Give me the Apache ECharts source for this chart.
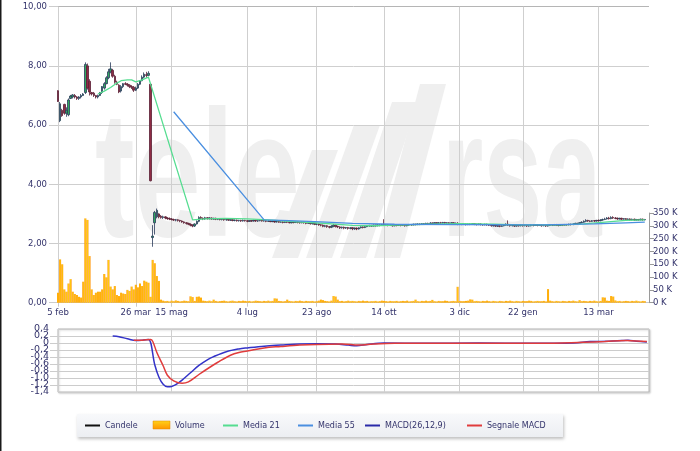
<!DOCTYPE html>
<html><head><meta charset="utf-8">
<script src="https://cdn.jsdelivr.net/npm/echarts@6/dist/echarts.min.js"></script>
<style>html,body{margin:0;padding:0;background:#fff}#c{width:700px;height:451px}</style>
</head><body><div id="c"></div>
<script>
// ---- data ----
const tickLabels = ['5 feb','26 mar','15 mag','4 lug','23 ago','14 ott','3 dic','22 gen','13 mar'];
const tickIdx = [0,37,54,90,123,155,191,221,257];
const dayCount = 282;
// [open, close, low, high] in euro cents, one per trading day
const ohlcCents = [
[716,680,678,718],[615,672,610,678],[650,632,628,655],[670,640,635,672],[640,650,628,660],
[635,685,630,690],[690,698,688,702],[695,702,690,705],[700,695,690,705],[695,690,685,698],
[690,695,685,698],[695,700,690,705],[700,705,698,708],[710,805,705,812],[800,725,720,808],
[748,712,700,755],[710,705,700,712],[708,700,695,712],[700,695,690,702],[695,700,690,703],
[700,710,698,712],[710,730,705,732],[725,740,720,745],[740,760,738,765],[760,780,755,790],
[780,790,775,812],[785,765,760,790],[765,745,740,770],[745,738,735,750],[735,712,708,738],
[715,730,710,735],[730,740,725,742],[740,738,735,745],[738,735,730,742],[735,730,725,738],
[730,728,722,735],[728,718,712,732],[718,725,715,730],[725,738,722,742],[738,750,735,752],
[750,762,748,768],[762,772,758,778],[770,768,760,780],[768,775,765,782],[738,412,410,740],
[220,225,189,262],[270,305,230,310],[290,312,285,318],[300,290,285,302],[292,288,284,296],
[288,290,283,294],[290,286,282,292],[286,284,280,289],[284,283,279,288],[283,281,278,286],
[281,279,276,284],[279,280,275,283],[280,278,274,282],[278,276,272,280],[276,273,270,278],
[273,270,267,275],[270,268,264,272],[268,265,262,270],[265,262,258,268],[262,259,255,265],
[259,266,256,268],[266,275,264,278],[275,288,272,292],[288,285,282,292],[285,283,279,288],
[283,287,280,290],[287,284,281,289],[284,286,281,289],[286,283,280,288],[283,285,280,287],
[285,282,279,287],[282,283,279,285],[283,281,278,285],[281,282,278,284],[282,280,277,284],
[280,281,277,283],[281,279,276,283],[279,280,276,282],[280,278,275,282],[278,279,275,281],
[279,277,274,281],[277,278,274,280],[278,276,273,280],[276,278,274,281],[278,277,274,280],
[277,275,272,279],[275,277,273,279],[277,276,273,279],[276,278,274,280],[278,276,273,280],
[276,277,273,279],[277,278,275,281],[278,276,274,280],[276,277,274,279],[277,275,272,279],
[275,276,273,278],
[276,274,272,278],[274,275,272,277],[275,273,270,277],[273,274,271,276],[274,272,270,276],
[272,273,270,275],[273,271,268,275],[271,273,269,275],[273,272,269,275],[272,270,268,274],
[270,272,268,274],[272,271,268,274],[271,273,269,275],[273,271,268,275],[271,270,267,273],
[270,272,268,274],[272,270,267,274],[270,268,265,272],[268,270,266,272],[270,267,264,271],
[267,268,264,270],[268,265,262,270],[265,266,262,268],[266,263,260,268],[263,262,258,265],
[262,258,255,264],[258,260,255,263],[260,257,253,262],[257,255,251,259],[255,258,252,262],
[258,262,255,266],[262,258,254,264],[258,256,252,260],[256,253,249,258],[253,255,250,257],
[255,252,248,257],[252,254,249,256],[254,251,247,256],[251,253,248,255],[253,250,245,255],
[250,252,246,254],[252,249,245,254],[249,253,247,255],[253,256,251,258],[256,254,251,258],
[254,257,252,259],[257,259,255,261],[259,261,257,263],[261,259,256,263],[259,262,257,264],
[262,260,257,264],[260,263,258,265],[263,261,258,265],[261,264,259,266],[264,262,259,282],
[262,263,260,265],[263,261,258,265],[261,262,259,264],[262,260,257,264],[260,262,258,264],
[262,261,258,264],[261,263,259,265],[263,261,258,265],[261,262,259,264],[262,260,257,264],
[260,262,258,264],[262,264,260,266],[264,263,260,266],[263,265,261,267],[265,264,261,267],
[264,266,262,268],[266,265,262,268],[265,267,263,269],[267,266,263,269],[266,268,264,270],
[268,267,264,270],[267,269,265,272],[269,268,265,271],[268,270,266,272],[270,268,265,272],
[268,270,266,272],[270,269,266,273],[269,271,267,273],[271,269,266,273],[269,270,267,272],
[270,268,265,272],[268,270,266,272],[270,267,264,272],[267,268,265,271],[268,266,262,272],
[266,267,263,269],[267,265,262,269],[265,266,263,268],[266,264,261,268],[264,266,262,268],
[266,265,262,268],[265,267,263,269],[267,265,262,269],[265,264,261,267],[264,266,262,268],
[266,264,261,268],[264,263,260,266],[263,265,261,267],[265,263,260,267],[263,262,259,265],
[262,260,257,264],[260,261,257,263],[261,259,256,263],[259,260,256,262],[260,258,255,262],
[258,260,256,262],[260,262,258,264],[262,265,260,268],[265,262,259,278],[262,260,257,264],
[260,261,258,263],[261,259,256,263],[259,261,257,263],[261,260,257,263],[260,262,258,264],
[262,260,257,264],[260,261,258,263],[261,259,256,263],[259,260,257,262],[260,262,258,264],
[262,261,258,264],[261,263,259,265],[263,261,258,265],[261,262,259,264],[262,260,257,264],
[260,261,258,263],[261,259,256,263],[259,261,257,263],[261,263,259,265],[263,262,259,265],
[262,264,260,266],[264,262,259,266],[262,261,258,264],[261,263,259,265],[263,262,259,265],
[262,264,260,266],[264,263,260,266],[263,265,261,267],[265,264,261,267],[264,266,262,268],
[266,268,264,270],[268,267,264,270],[267,270,265,272],[270,272,268,275],[272,275,270,278],
[275,278,272,282],[278,276,273,280],[276,275,272,278],[275,277,273,279],[277,276,273,279],
[276,278,274,280],[278,277,274,281],[277,279,275,282],[279,281,277,284],[281,283,279,287],
[283,286,281,289],[286,284,281,290],[284,288,282,292],[288,286,283,292],[286,285,282,289],
[285,283,280,288],[283,285,281,287],[285,282,279,287],[282,284,280,286],[284,281,278,286],
[281,283,279,285],[283,280,277,285],[280,282,278,284],[282,279,276,284],[279,281,277,283],
[281,280,277,283],[280,282,278,284],[282,280,277,284],[280,281,278,283]
];
// volume in thousands of shares, one per trading day
const volumeK = [
39,169,150,52,43,75,92,43,34,30, 23,20,82,329,323,182,52,30,39,43,
43,52,112,99,167,63,52,65,30,26, 39,36,34,50,46,63,52,70,60,75,
65,86,82,78,23,167,154,104,85,12,
8,6,7,5,8,6,9,7,5,6, 8,7,6,25,22,7,23,24,20,8,
7,6,8,6,12,7,5,6,7,8, 6,5,7,8,6,5,7,6,8,7,
6,7,5,6,8,7,6,5,7,6, 8,6,7,17,16,7,6,5,6,12,
7,6,5,7,6,8,6,5,7,6, 6,7,5,6,8,12,10,7,6,5,
8,26,24,12,6,7,5,6,8,6, 7,6,5,7,6,8,6,7,5,6,
6,7,5,6,8,7,6,5,7,6, 6,7,5,6,7,6,8,5,6,7,
12,6,5,7,6,8,6,7,11,6, 5,7,6,6,8,7,5,6,7,6,
62,7,6,6,7,8,13,12,6,7, 6,5,7,6,8,6,5,7,6,5,
7,6,5,7,6,8,6,5,7,6, 5,7,6,6,8,7,5,6,7,6,
6,7,5,53,8,6,5,7,6,5, 7,6,5,7,6,8,6,5,10,6,
7,6,5,7,6,8,6,5,7,21, 20,8,7,26,24,9,6,7,5,6,
7,6,5,7,6,8,6,5,7,6
];
// [day index, value]
const ma21 = [[19,7.05],[22,7.15],[25,7.27],[28,7.42],[30,7.5],[33,7.53],[35,7.53],[37,7.46],[40,7.53],[43,7.62],
[64,2.8],[70,2.83],[80,2.85],[90,2.83],[100,2.8],[110,2.75],[120,2.71],[130,2.66],[140,2.61],[150,2.6],[160,2.62],
[175,2.65],[191,2.67],[207,2.65],[220,2.63],[240,2.63],[250,2.66],[260,2.72],[270,2.78],[279,2.8]];
const ma55 = [[55,6.45],[98,2.8],[110,2.77],[125,2.73],[140,2.68],[160,2.65],[191,2.64],[230,2.63],[255,2.66],[270,2.7],[279,2.72]];
const macdLine = [[26,0.2],[29,0.18],[33,0.12],[37,0.07],[40,0.08],[43,0.1],[46,-0.62],[48,-0.98],[50,-1.18],[52,-1.25],
[54,-1.24],[56,-1.19],[59,-1.06],[63,-0.85],[67,-0.64],[71,-0.48],[74,-0.39],[80,-0.25],[86,-0.17],[90,-0.14],[98,-0.09],
[106,-0.06],[115,-0.03],[123,-0.02],[132,-0.03],[138,-0.06],[142,-0.08],[147,-0.04],[155,0],[175,-0.01],[200,0],[225,-0.01],
[245,0],[253,0.04],[262,0.05],[268,0.07],[271,0.08],[275,0.05],[280,0.03]];
const signalLine = [[36,0.08],[40,0.08],[44,0.1],[45,0.05],[47,-0.27],[50,-0.65],[52,-0.92],[55,-1.08],[59,-1.15],[62,-1.11],
[67,-0.9],[72,-0.7],[76,-0.55],[82,-0.35],[86,-0.27],[90,-0.23],[98,-0.14],[106,-0.1],[115,-0.06],[123,-0.04],[135,-0.03],
[143,-0.06],[150,-0.03],[160,-0.01],[190,-0.01],[230,-0.01],[250,0.02],[260,0.04],[270,0.07],[275,0.06],[280,0.04]];

// ---- chart ----
const FONT = 'DejaVu Sans';
const LBL = '#33336b';
const categories = [];
for (let i = 0; i < dayCount; i++) {
  const k = tickIdx.indexOf(i);
  categories.push(k >= 0 ? tickLabels[k] : 'g' + i);
}
const isTick = (i) => tickIdx.indexOf(i) >= 0;
const candles = ohlcCents.map(r => r.map(v => v / 100));
const volumes = volumeK.map(v => v * 1000);
const G = echarts.graphic;
const volGrad = new G.LinearGradient(0, 0, 1, 0, [
  {offset: 0, color: '#ff9000'}, {offset: 0.5, color: '#ffcc10'}, {offset: 1, color: '#ff9000'}]);
const macdFmt = (v) => Math.abs(v) < 1e-9 ? '0' : v.toFixed(1).replace('.', ',');
const MACD_MIN = -1.4, MACD_MAX = 0.4;

const chart = echarts.init(document.getElementById('c'), null, {renderer: 'canvas'});
const wm = '#efefef';
const legendItems = [
  {type:'line', x:85, label:'Candele', color:'#111111'},
  {type:'rect', x:153, label:'Volume'},
  {type:'line', x:223, label:'Media 21', color:'#55dd90'},
  {type:'line', x:298, label:'Media 55', color:'#4a8fe0'},
  {type:'line', x:365, label:'MACD(26,12,9)', color:'#2a2aa8'},
  {type:'line', x:467, label:'Segnale MACD', color:'#e03c3c'}
];
const legendGraphic = [{
  type:'rect', z:5, shape:{x:77, y:414, width:486, height:23},
  style:{fill: new G.LinearGradient(0,0,0,1,[{offset:0,color:'#f8f9fb'},{offset:1,color:'#eceef2'}]),
    shadowBlur:3, shadowOffsetX:1, shadowOffsetY:2, shadowColor:'rgba(0,0,0,0.25)'}
}];
legendItems.forEach(it => {
  if (it.type === 'line') {
    legendGraphic.push({type:'line', z:6, shape:{x1:it.x, y1:425.5, x2:it.x+15, y2:425.5}, style:{stroke:it.color, lineWidth:2}});
    legendGraphic.push({type:'text', z:6, style:{text:it.label, x:it.x+20, y:425.5, fill:LBL, font:'8px "DejaVu Sans"', verticalAlign:'middle'}});
  } else {
    legendGraphic.push({type:'rect', z:6, shape:{x:it.x, y:421, width:17, height:8},
      style:{fill:new G.LinearGradient(0,0,0,1,[{offset:0,color:'#ffd21a'},{offset:1,color:'#ff9400'}]), stroke:'#e08a00', lineWidth:0.5}});
    legendGraphic.push({type:'text', z:6, style:{text:it.label, x:it.x+22, y:425.5, fill:LBL, font:'8px "DejaVu Sans"', verticalAlign:'middle'}});
  }
});

const watermark = [
  {type:'text', z:-10, x:95, y:96, scaleX:0.66, style:{text:'tele', fill:wm, font:'bold 180px "Liberation Sans"', verticalAlign:'top'}},
  {type:'text', z:-10, x:442, y:96, scaleX:0.59, style:{text:'rsa', fill:wm, font:'bold 180px "Liberation Sans"', verticalAlign:'top'}},
  {type:'polygon', z:-10, shape:{points:[[272,258],[298,258],[338,150],[312,150]]}, style:{fill:wm}},
  {type:'polygon', z:-10, shape:{points:[[306,258],[332,258],[380,125],[354,125]]}, style:{fill:wm}},
  {type:'polygon', z:-10, shape:{points:[[340,258],[366,258],[418,102],[392,102]]}, style:{fill:wm}},
  {type:'polygon', z:-10, shape:{points:[[374,258],[400,258],[446,84],[420,84]]}, style:{fill:wm}}
];

const option = {
  animation: false,
  backgroundColor: '#ffffff',
  textStyle: {fontFamily: FONT},
  grid: [
    {left:58, right:51, top:6.7, bottom:148.3},
    {left:58, right:51, top:213, bottom:148.3},
    {left:58, right:51, top:329, bottom:59, show:true, borderColor:'#b9b9b9', borderWidth:1,
     shadowColor:'rgba(0,0,0,0.2)', shadowBlur:2, shadowOffsetX:1, shadowOffsetY:1, backgroundColor:'#fff'}
  ],
  xAxis: [
    {type:'category', gridIndex:0, data:categories, boundaryGap:false,
     axisLine:{show:true, lineStyle:{color:'#c8c8c8'}},
     axisTick:{show:true, interval:(i)=>isTick(i), length:4, lineStyle:{color:'#c8c8c8'}},
     axisLabel:{interval:(i)=>isTick(i), color:LBL, fontFamily:FONT, fontSize:8.5, margin:6},
     splitLine:{show:true, interval:(i)=>isTick(i), lineStyle:{color:'#cfcfcf'}}},
    {type:'category', gridIndex:1, data:categories, boundaryGap:false, show:false},
    {type:'category', gridIndex:2, data:categories, boundaryGap:false,
     axisLine:{show:false}, axisTick:{show:false}, axisLabel:{show:false},
     splitLine:{show:true, interval:(i)=>isTick(i), lineStyle:{color:'#cfcfcf'}}}
  ],
  yAxis: [
    {type:'value', gridIndex:0, min:0, max:10, interval:2,
     axisLine:{show:false},
     axisTick:{show:true, length:9, lineStyle:{color:'#cccccc'}},
     axisLabel:{color:LBL, fontFamily:FONT, fontSize:8.5, margin:11, formatter:(v)=>v.toFixed(2).replace('.', ',')},
     splitLine:{lineStyle:{color:['#cfcfcf','#cfcfcf','#cfcfcf','#cfcfcf','#cfcfcf','#b5b5b5']}}},
    {type:'value', gridIndex:1, position:'right', min:0, max:350000, interval:50000,
     axisLine:{show:true, lineStyle:{color:'#9a9a9a'}},
     axisTick:{show:true, length:5, lineStyle:{color:'#9a9a9a'}},
     axisLabel:{color:LBL, fontFamily:FONT, fontSize:8.5, margin:4, formatter:(v)=>(v/1000)+' K'},
     splitLine:{show:false}},
    {type:'value', gridIndex:2, min:MACD_MIN, max:MACD_MAX, interval:0.2,
     axisLine:{show:false},
     axisTick:{show:true, length:8, lineStyle:{color:'#cccccc'}},
     axisLabel:{color:LBL, fontFamily:FONT, fontSize:9.5, margin:9,
       showMinLabel:false, showMaxLabel:false, formatter:macdFmt},
     splitLine:{lineStyle:{color:'#cccccc'}}},
    {type:'value', gridIndex:2, position:'left', min:MACD_MIN, max:MACD_MAX, interval:0.2,
     axisLine:{show:false}, axisTick:{show:false}, splitLine:{show:false},
     axisLabel:{color:LBL, fontFamily:FONT, fontSize:9.5, margin:9,
       showMinLabel:true, showMaxLabel:true,
       formatter:(v)=>(Math.abs(v - MACD_MIN) < 1e-9 || Math.abs(v - MACD_MAX) < 1e-9) ? macdFmt(v) : ''}}
  ],
  series: [
    {name:'Volume', type:'bar', xAxisIndex:1, yAxisIndex:1, data:volumes, barWidth:2,
     itemStyle:{color:volGrad}, z:1},
    {name:'Candele', type:'candlestick', xAxisIndex:0, yAxisIndex:0, data:candles, barWidth:2, clip:false,
     itemStyle:{color:'#2faa5f', color0:'#8e2c44', borderColor:'#2a3a5a', borderColor0:'#5a2035', borderWidth:0.8}, z:3},
    {name:'Media 21', type:'line', xAxisIndex:0, yAxisIndex:0, data:ma21, symbol:'none',
     lineStyle:{color:'#55dd90', width:1.3}, z:4},
    {name:'Media 55', type:'line', xAxisIndex:0, yAxisIndex:0, data:ma55, symbol:'none',
     lineStyle:{color:'#4a8fe0', width:1.3}, z:4},
    {name:'MACD(26,12,9)', type:'line', xAxisIndex:2, yAxisIndex:2, data:macdLine, symbol:'none', smooth:0.35,
     lineStyle:{color:'#3333c8', width:1.5}, z:4},
    {name:'Segnale MACD', type:'line', xAxisIndex:2, yAxisIndex:2, data:signalLine, symbol:'none', smooth:0.35,
     lineStyle:{color:'#e03c3c', width:1.5}, z:5}
  ],
  graphic: [
    {type:'group', z:-10, children: watermark},
    {type:'rect', shape:{x:0, y:0, width:1.5, height:451}, style:{fill:'#1a1a1a'}, z:10},
    {type:'group', z:20, children: legendGraphic}
  ]
};
chart.setOption(option);
</script>
</body></html>
